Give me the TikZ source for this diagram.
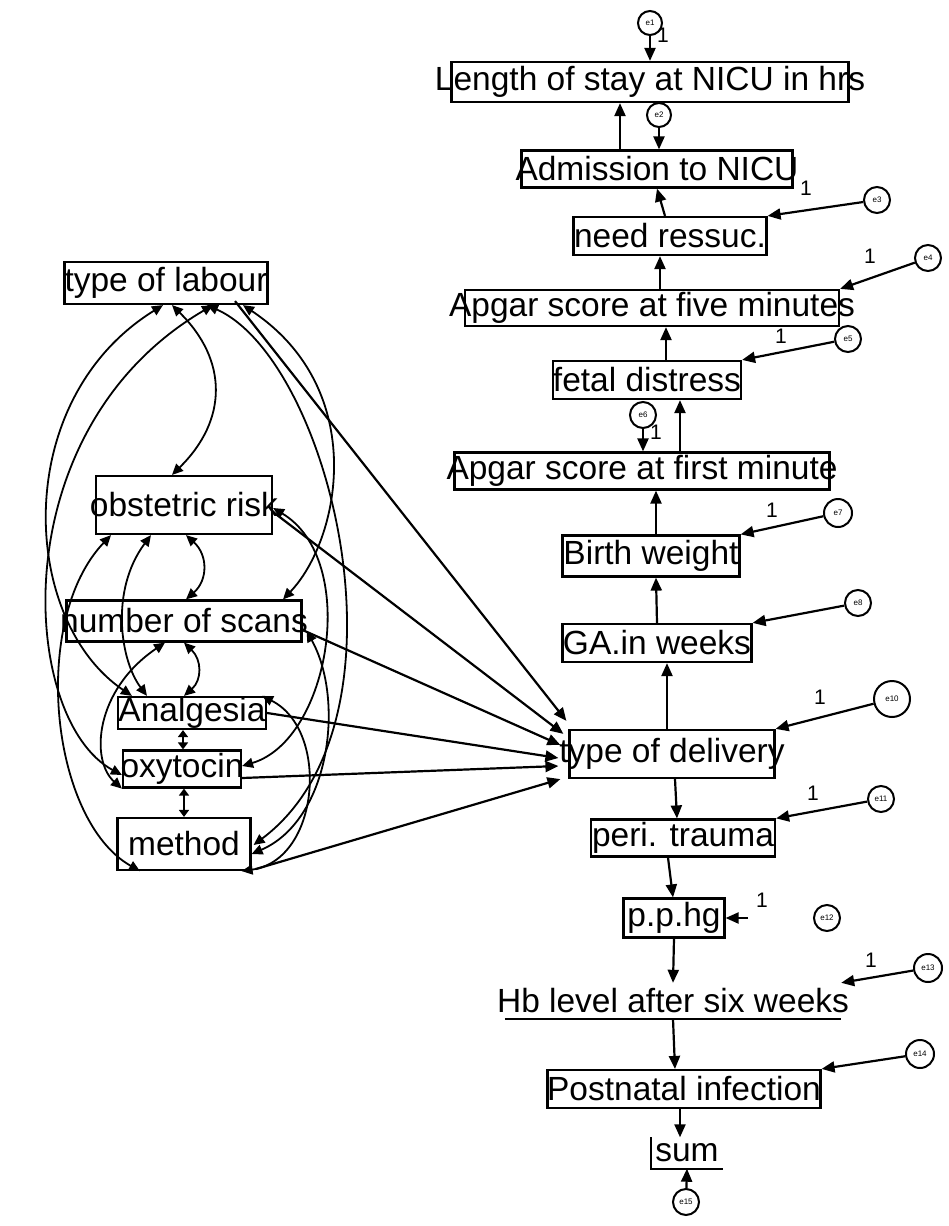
\documentclass[tikz,border=0pt]{standalone}
\usepackage{fontspec}
\setmainfont{Liberation Sans}
\usetikzlibrary{arrows.meta,calc}
\begin{document}
\begin{tikzpicture}[x=1pt,y=-1pt,
  box/.style={draw, line width=2.2pt, inner sep=0pt, font=\fontsize{33.5}{35}\selectfont},
  bare/.style={inner sep=0pt, font=\fontsize{33.5}{35}\selectfont},
  err/.style={draw, circle, line width=2pt, inner sep=0pt, font=\fontsize{8}{9}\selectfont},
  one/.style={inner sep=0pt, font=\fontsize{21}{22}\selectfont},
  arr/.style={-{Triangle[length=13pt,width=11pt]}, line width=2.2pt},
  cov/.style={{Triangle[length=11pt,width=10pt]}-{Triangle[length=11pt,width=10pt]}, line width=1.8pt},
  scov/.style={{Triangle[length=7pt,width=10pt]}-{Triangle[length=7pt,width=10pt]}, line width=1.8pt}]
\useasboundingbox (0,0) rectangle (948,1226);

% ---- outcome chain (right column) ----
\node[box, minimum width=397, minimum height=40] (len)   at (650,82)  {\makebox[0pt]{Length of stay at NICU in hrs}};
\node[box, minimum width=271, minimum height=37] (adm)   at (657,169) {\makebox[0pt]{Admission to NICU}};
\node[box, minimum width=193, minimum height=38] (need)  at (670,236) {\makebox[0pt]{need ressuc.}};
\node[box, minimum width=374, minimum height=36] (ap5)   at (652,308) {\makebox[0pt]{Apgar score at five minutes}};
\node[box, minimum width=188, minimum height=38] (fetal) at (647,380) {\makebox[0pt]{fetal distress}};
\node[box, minimum width=375, minimum height=37] (ap1)   at (642,471) {\makebox[0pt]{Apgar score at first minute}};
\node[box, minimum width=177, minimum height=41] (birth) at (651,556) {\makebox[0pt]{Birth weight}};
\node[box, minimum width=189, minimum height=38] (ga)    at (657,643) {\makebox[0pt]{GA.in weeks}};
\node[box, minimum width=205, minimum height=48] (del)   at (672,754) {\makebox[0pt]{type of delivery}};
\node[box, minimum width=184, minimum height=37] (peri)  at (683,838) {\makebox[0pt]{peri. trauma}};
\node[box, minimum width=101, minimum height=39] (pphg)  at (674,918) {\makebox[0pt]{p.p.hg}};
\node[bare, minimum width=336, minimum height=36] (hb)   at (673,1001) {\makebox[0pt]{Hb level after six weeks}};
\draw[line width=2.2pt] (hb.south west) -- (hb.south east);
\node[box, minimum width=273, minimum height=38] (post)  at (684,1089) {\makebox[0pt]{Postnatal infection}};
\node[bare, minimum width=72, minimum height=31] (sum)   at (687,1153) {\makebox[0pt]{sum}};
\draw[line width=2.2pt] (sum.north west) -- (sum.south west) -- (sum.south east);

% ---- exogenous variables (left cluster) ----
\node[box, minimum width=203, minimum height=42] (lab)  at (166,283) {\makebox[0pt]{type of labour}};
\node[box, minimum width=176, minimum height=58] (obs)  at (184,505) {\raisebox{-9pt}{\makebox[0pt]{obstetric risk}}};
\node[box, minimum width=235, minimum height=41] (scan) at (184,621) {\makebox[0pt]{number of scans}};
\node[box, minimum width=148, minimum height=32] (ana)  at (192,713) {\makebox[0pt]{Analgesia}};
\node[box, minimum width=118, minimum height=37] (oxy)  at (182,769) {\makebox[0pt]{oxytocin}};
\node[box, minimum width=133, minimum height=52] (meth) at (184,844) {\raisebox{-6pt}{\makebox[0pt]{method}}};

% ---- error terms ----
\node[err, minimum size=24] (e1)  at (650,23)   {e1};
\node[err, minimum size=24] (e2)  at (659,115)  {e2};
\node[err, minimum size=26] (e3)  at (877,200)  {e3};
\node[err, minimum size=26] (e4)  at (928,258)  {e4};
\node[err, minimum size=26] (e5)  at (848,339)  {e5};
\node[err, minimum size=26] (e6)  at (643,415)  {e6};
\node[err, minimum size=28] (e7)  at (838,513)  {e7};
\node[err, minimum size=26] (e8)  at (858,603)  {e8};
\node[err, minimum size=36] (e10) at (892,699)  {e10};
\node[err, minimum size=26] (e11) at (881,799)  {e11};
\node[err, minimum size=26] (e12) at (827,918)  {e12};
\node[err, minimum size=28] (e13) at (928,968)  {e13};
\node[err, minimum size=28] (e14) at (920,1054) {e14};
\node[err, minimum size=26] (e15) at (686,1202) {e15};

\draw[arr] (e1) -- (e1 |- len.north);
\draw[arr] (e2) -- (e2 |- adm.north);
\draw[arr] (e3) -- (need.north east);
\draw[arr] (e4) -- (ap5.north east);
\draw[arr] (e5) -- (fetal.north east);
\draw[arr] (e6) -- (e6 |- ap1.north);
\draw[arr] (e7) -- (birth.north east);
\draw[arr] (e8) -- (ga.north east);
\draw[arr] (e10) -- (del.north east);
\draw[arr] (e11) -- (peri.north east);
\coordinate (e12t) at (748,918);
\draw[arr] (e12t) -- (pphg.east);
\draw[arr] (e13) -- (hb.north east);
\draw[arr] (e14) -- (post.north east);
\draw[arr] (e15) -- (sum.south);

% regression weights fixed to 1
\node[one] (w1)  at (663,35)  {1};
\node[one] (w3)  at (806,188) {1};
\node[one] (w4)  at (870,256) {1};
\node[one] (w5)  at (781,336) {1};
\node[one] (w6)  at (656,432) {1};
\node[one] (w7)  at (772,510) {1};
\node[one] (w10) at (820,697) {1};
\node[one] (w11) at (813,793) {1};
\node[one] (w12) at (762,900) {1};
\node[one] (w13) at (871,960) {1};

% ---- paths along the chain ----
\draw[arr] ($(adm.north)+(-37,0)$) -- ($(len.south)+(-30,0)$);
\draw[arr] ($(need.north)+(-5,0)$) -- (adm.south);
\draw[arr] ($(ap5.north)+(8,0)$) -- ($(need.south)+(-10,0)$);
\draw[arr] ($(fetal.north)+(19,0)$) -- ($(ap5.south)+(14,0)$);
\draw[arr] ($(ap1.north)+(38,0)$) -- ($(fetal.south)+(33,0)$);
\draw[arr] ($(birth.north)+(5,0)$) -- ($(ap1.south)+(14,0)$);
\draw[arr] (ga.north) -- ($(birth.south)+(5,0)$);
\draw[arr] ($(del.north)+(-5,0)$) -- ($(ga.south)+(10,0)$);
\draw[arr] ($(del.south)+(3,0)$) -- ($(peri.north)+(-6,0)$);
\draw[arr] ($(peri.south)+(-15,0)$) -- ($(pphg.north)+(-1,0)$);
\draw[arr] (pphg.south) -- (hb.north);
\draw[arr] (hb.south) -- ($(post.north)+(-9,0)$);
\draw[arr] ($(post.south)+(-4,0)$) -- ($(sum.north)+(-7,0)$);

% ---- exogenous variables -> type of delivery ----
\draw[arr] ($(lab.south)+(69,-4)$)  -- ($(del.north west)+(-2,-8)$);
\draw[arr] ($(obs.east)+(0,7)$)     -- ($(del.north west)+(-5,5)$);
\draw[arr] ($(scan.east)+(0,9)$)    -- ($(del.west)+(-8,-9)$);
\draw[arr] (ana.east)               -- ($(del.west)+(-10,4)$);
\draw[arr] ($(oxy.east)+(0,9)$)     -- ($(del.west)+(-10,12)$);
\draw[arr] ($(meth.south east)+(4,-2)$) -- ($(del.south west)+(-8,0)$);

% ---- covariances among exogenous variables ----
\draw[cov] ($(lab.south)+(6,0)$) .. controls (228,360) and (228,420) .. ($(obs.north)+(-12,0)$);
\draw[cov] ($(lab.south)+(77,0)$) .. controls (370,390) and (340,540) .. ($(scan.north)+(99,0)$);
\draw[cov] ($(lab.south)+(-3,0)$) .. controls (10,400) and (20,620) .. ($(ana.north west)+(15,0)$);
\draw[cov] ($(lab.south)+(47,0)$) .. controls (0,430) and (20,720) .. ($(oxy.west)+(0,6)$);
\draw[cov] ($(lab.south)+(41,0)$) .. controls (330,360) and (420,720) .. ($(meth.east)+(2,1)$);
\draw[cov] ($(obs.south)+(2,0)$) .. controls (208,555) and (208,580) .. ($(scan.north)+(2,0)$);
\draw[cov] ($(obs.south)+(-33,0)$) .. controls (110,590) and (120,660) .. ($(ana.north)+(-45,0)$);
\draw[cov] ($(obs.east)+(0,3)$) .. controls (360,560) and (330,740) .. ($(oxy.east)+(0,-3)$);
\draw[cov] ($(obs.south)+(-73,0)$) .. controls (30,620) and (50,820) .. ($(meth.south)+(-44,0)$);
\draw[cov] (scan.south) .. controls (202,660) and (202,680) .. ($(ana.north)+(-8,0)$);
\draw[cov] ($(scan.south)+(-19,0)$) .. controls (95,690) and (90,760) .. (oxy.south west);
\draw[cov] ($(scan.east)+(4,10)$) .. controls (345,700) and (330,820) .. ($(meth.east)+(0,10)$);
\draw[scov] ($(ana.south)+(-9,0)$) -- ($(oxy.north)+(1,0)$);
\draw[cov] ($(ana.north east)+(-5,0)$) .. controls (330,730) and (320,860) .. ($(meth.south east)+(-10,0)$);
\draw[scov] ($(oxy.south)+(2,0)$) -- ($(meth.north)+(0,0)$);
\end{tikzpicture}
\end{document}
